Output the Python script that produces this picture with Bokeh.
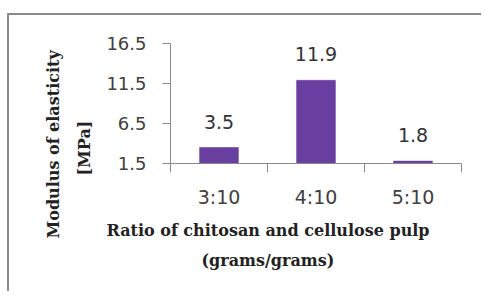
import math
from bokeh.plotting import figure
from bokeh.models import (Range1d, FixedTicker, ColumnDataSource, LabelSet, Title)
from bokeh.embed import file_html
from bokeh.resources import INLINE
from bokeh.core.properties import value

# ---- data ----
categories = ["3:10", "4:10", "5:10"]
modulus = [3.5, 11.9, 1.8]
value_labels = ["3.5", "11.9", "1.8"]
y_ticks = [1.5, 6.5, 11.5, 16.5]
y_tick_labels = ["1.5", "6.5", "11.5", "16.5"]
x_title = ["Ratio of  chitosan and cellulose pulp", "(grams/grams)"]
y_title = ["Modulus of elasticity", "[MPa]"]

n = len(categories)
centers = [i + 0.5 for i in range(n)]
base = y_ticks[0]

p = figure(
    width=474, height=278,
    min_border_left=161, min_border_top=28, min_border_right=22, min_border_bottom=130,
    x_range=Range1d(0, n), y_range=Range1d(y_ticks[0], y_ticks[-1]),
    output_backend="svg", toolbar_location=None,
)
p.styles = {"margin-left": "7px", "margin-top": "13px",
            "border-left": "2px solid #8a8a8a", "border-top": "2px solid #8a8a8a"}
p.background_fill_color = "white"
p.border_fill_color = "white"
p.outline_line_color = None
p.xgrid.visible = False
p.ygrid.visible = False

src = ColumnDataSource(dict(x=centers, top=modulus, bottom=[base] * n, lab=value_labels))
p.vbar(x="x", top="top", bottom="bottom", width=0.4, source=src,
       fill_color="#6a3fa2", line_color="#5e3896", line_width=0.5)

p.add_layout(LabelSet(x="x", y="top", text="lab", source=src, y_offset=26,
                      text_align="center", text_baseline="middle",
                      text_font=value("DejaVu Sans"), text_font_size="19px",
                      text_color="#333333"))

# x axis
xa = p.xaxis[0]
xa.ticker = FixedTicker(ticks=centers, minor_ticks=list(range(n + 1)))
xa.major_label_overrides = {c: lab for c, lab in zip(centers, categories)}
xa.major_tick_line_color = None
xa.major_tick_out = 0
xa.major_tick_in = 0
xa.minor_tick_out = 9
xa.minor_tick_in = 0
xa.minor_tick_line_color = "#8a8a8a"
xa.axis_line_color = "#8a8a8a"
xa.major_label_standoff = 13
xa.major_label_text_font = "DejaVu Sans"
xa.major_label_text_font_size = "19px"
xa.major_label_text_color = "#404040"

# y axis
ya = p.yaxis[0]
ya.ticker = FixedTicker(ticks=y_ticks)
ya.major_label_overrides = {t: l for t, l in zip(y_ticks, y_tick_labels)}
ya.major_tick_out = 8
ya.major_tick_in = 0
ya.minor_tick_line_color = None
ya.major_tick_line_color = "#8a8a8a"
ya.axis_line_color = "#8a8a8a"
ya.major_label_standoff = 16
ya.major_label_text_font = "DejaVu Sans"
ya.major_label_text_font_size = "18px"
ya.major_label_text_color = "#404040"

# axis titles as side-panel titles (two lines each)
title_style = dict(text_font="DejaVu Serif", text_font_style="bold",
                   text_font_size="16px", text_color="#222222", align="left")
p.add_layout(Title(text=x_title[0], offset=-64, standoff=17, **title_style), "below")
p.add_layout(Title(text=x_title[1], offset=31, standoff=0, **title_style), "below")
p.add_layout(Title(text=y_title[1], offset=-12, standoff=20, **title_style), "left")
p.add_layout(Title(text=y_title[0], offset=-75, standoff=0, **title_style), "left")

open("out.html", "w").write(file_html(p, INLINE))
